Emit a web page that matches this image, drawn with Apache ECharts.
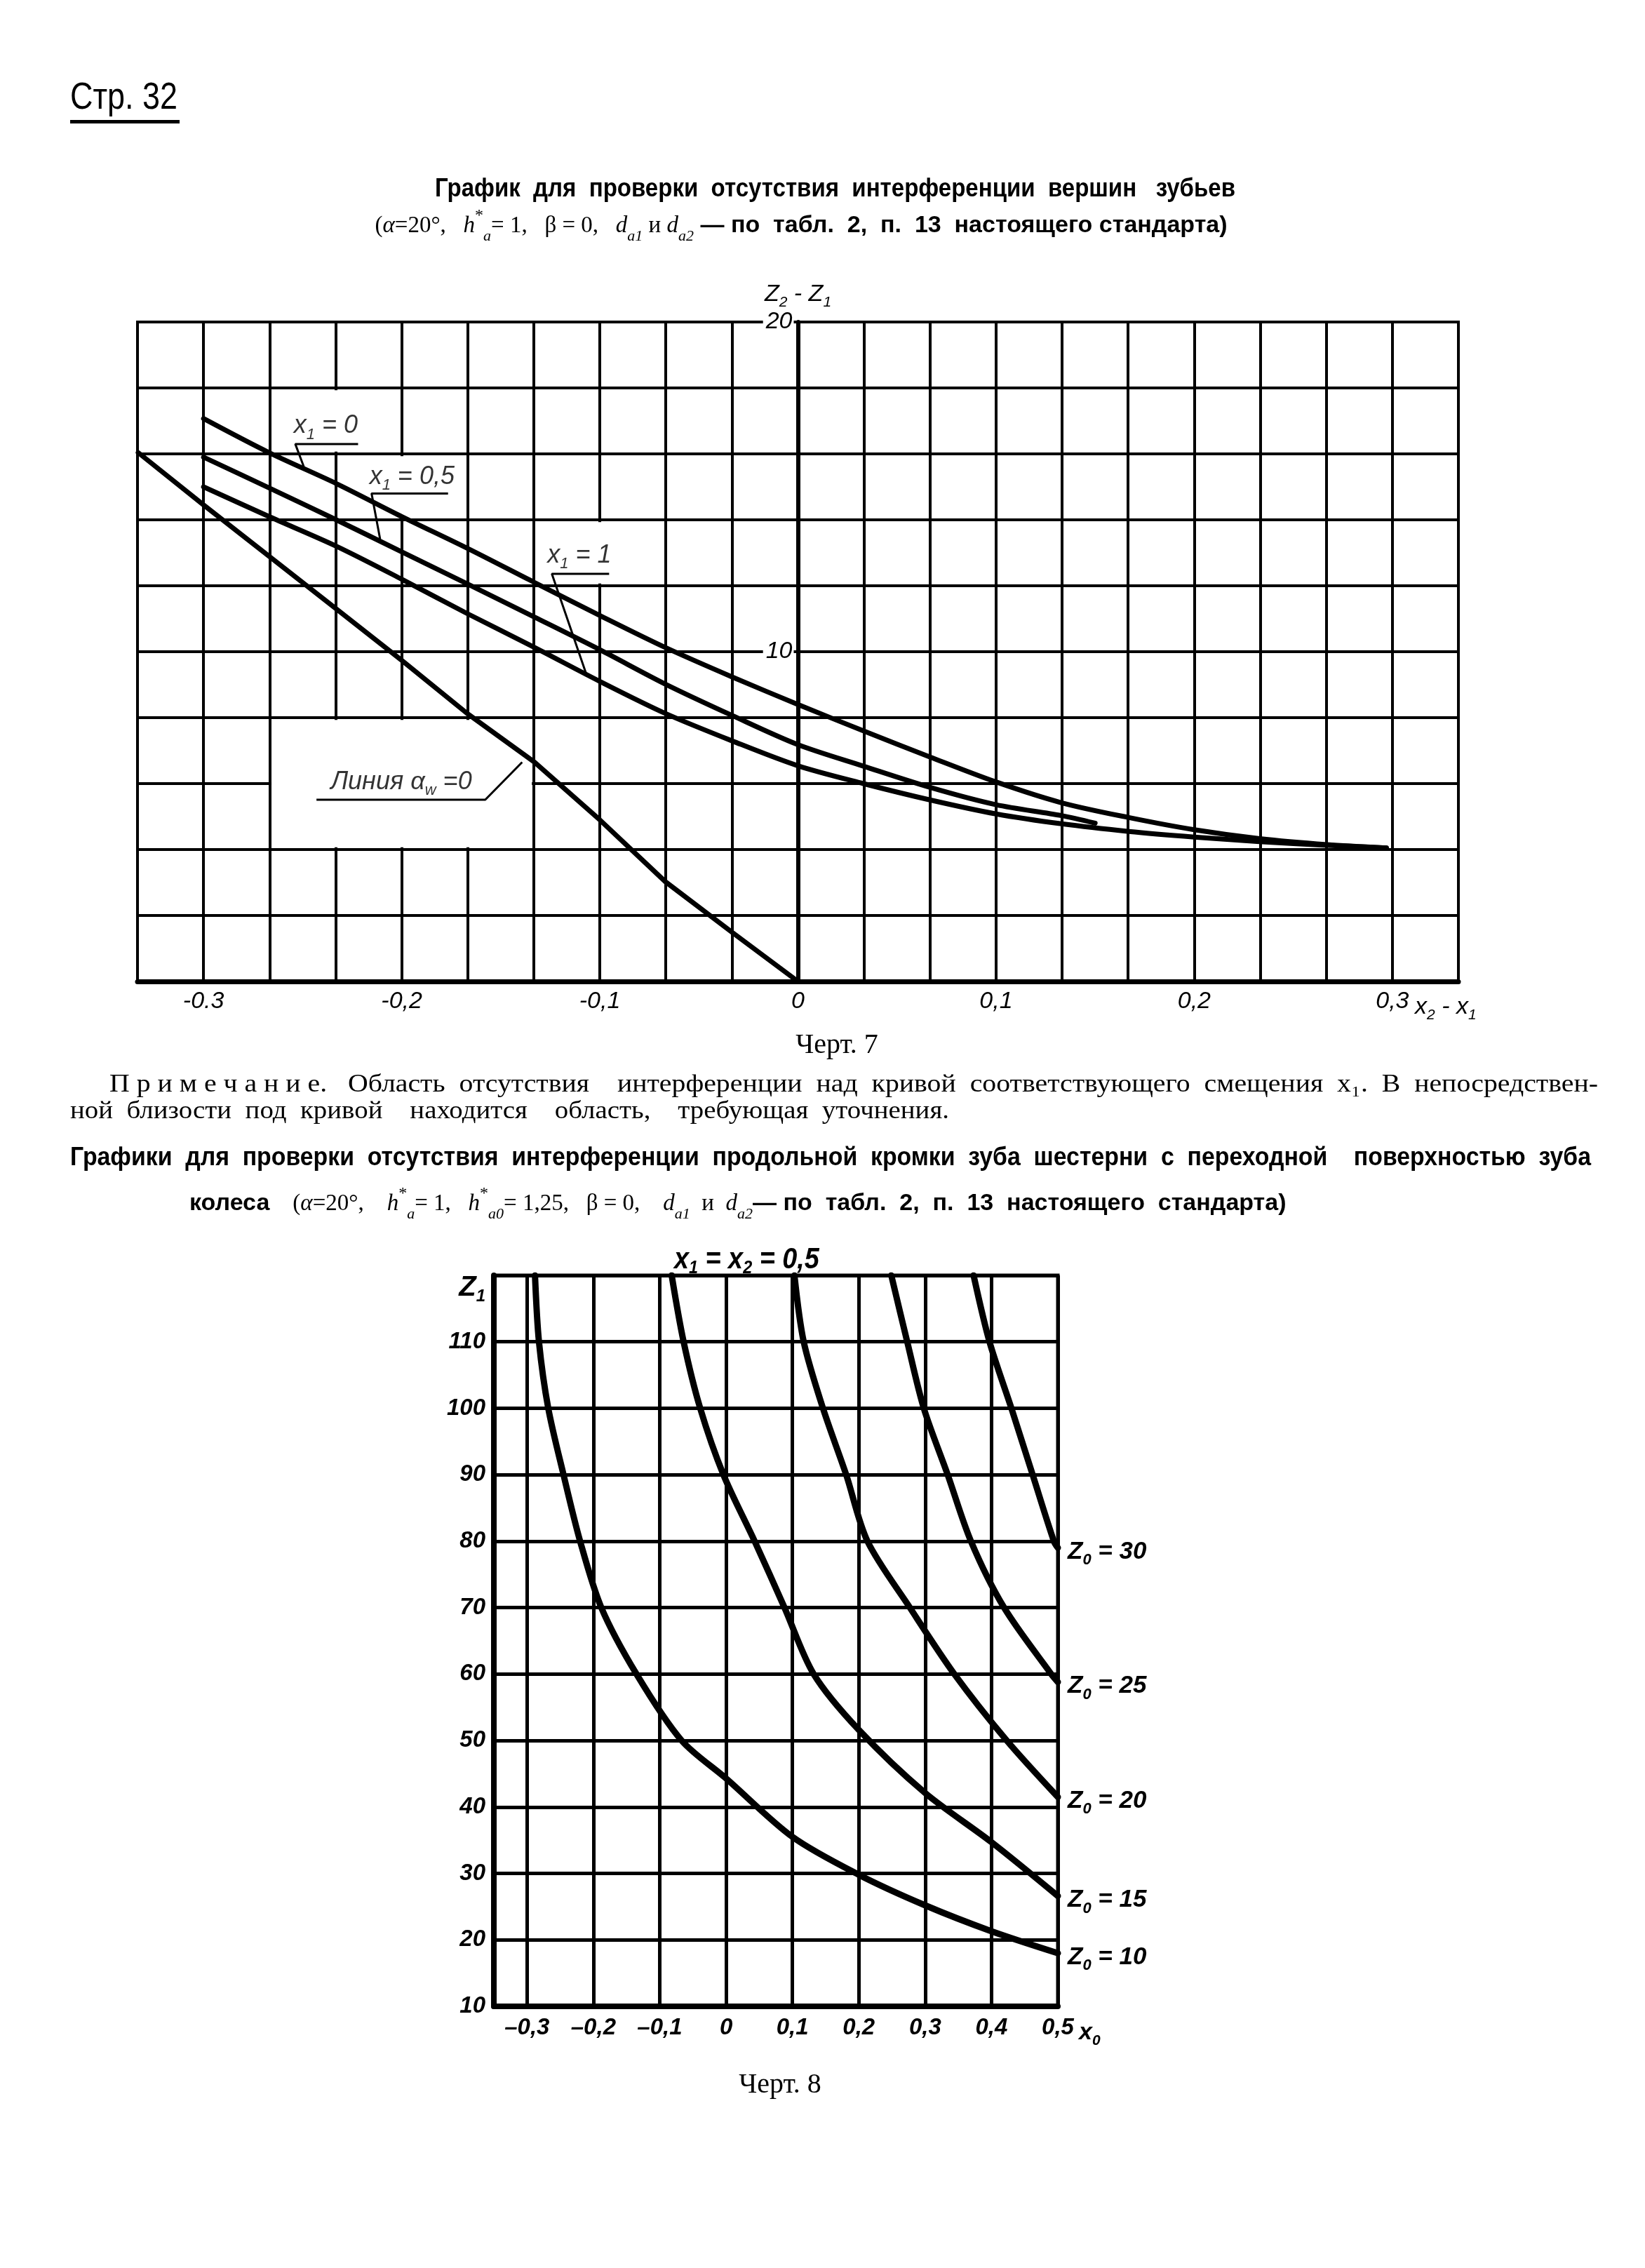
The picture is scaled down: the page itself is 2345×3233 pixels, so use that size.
<!DOCTYPE html>
<html><head><meta charset="utf-8">
<script src="https://cdn.jsdelivr.net/npm/echarts@6/dist/echarts.min.js"></script>
<style>html,body{margin:0;padding:0;background:#fff}#c{width:2345px;height:3233px}</style>
</head><body><div id="c"></div>
<script>
// ---------- Черт. 7 data (x = x2 - x1, y = z2 - z1) ----------
const curveX1_0  = [[-0.3,17.07],[-0.267,16.04],[-0.233,15.1],[-0.2,14.1],[-0.167,13.14],[-0.133,12.1],[-0.1,11.1],[-0.067,10.13],[-0.033,9.23],[0,8.4],[0.033,7.6],[0.067,6.8],[0.1,6.05],[0.133,5.42],[0.167,4.97],[0.2,4.6],[0.233,4.33],[0.267,4.15],[0.297,4.05]];
const curveX1_05 = [[-0.3,15.9],[-0.267,14.97],[-0.233,14.0],[-0.2,13.03],[-0.167,12.06],[-0.133,11.05],[-0.1,10.06],[-0.067,9.02],[-0.033,8.06],[0,7.18],[0.033,6.53],[0.067,5.88],[0.1,5.36],[0.133,5.03],[0.15,4.8]];
const curveX1_1  = [[-0.3,15.0],[-0.267,14.1],[-0.233,13.2],[-0.2,12.2],[-0.167,11.16],[-0.133,10.13],[-0.1,9.1],[-0.067,8.13],[-0.033,7.29],[0,6.54],[0.033,6.0],[0.067,5.5],[0.1,5.08],[0.133,4.78],[0.167,4.55],[0.2,4.38],[0.233,4.24],[0.267,4.13],[0.297,4.05]];
const lineAlphaW0 = [[-0.333,16.04],[-0.3,14.45],[-0.267,12.9],[-0.233,11.3],[-0.2,9.74],[-0.167,8.13],[-0.133,6.65],[-0.1,4.9],[-0.067,3.03],[-0.033,1.48],[0,0]];
const xTicks1 = [-0.3,-0.2,-0.1,0,0.1,0.2,0.3];
const xTickLabels1 = ['-0.3','-0,2','-0,1','0','0,1','0,2','0,3'];
const yTicks1 = [10,20];
const yTickLabels1 = ['10','20'];
// leader lines and their labels
const leaders1 = [
  [[-0.2494,15.61],[-0.2537,16.3],[-0.222,16.3]],
  [[-0.2109,13.42],[-0.2152,14.8],[-0.1766,14.8]],
  [[-0.107,9.35],[-0.1242,12.36],[-0.0953,12.36]],
  [[-0.243,5.51],[-0.1578,5.51],[-0.1392,6.65]]
];
const annotPos1 = [[-0.2383,16.85],[-0.1948,15.3],[-0.1103,12.92],[-0.2002,6.05]];
const annotLabels1 = ['{i|x}{s|1}{i| = 0}','{i|x}{s|1}{i| = 0,5}','{i|x}{s|1}{i| = 1}','{i|Линия α}{s|w}{i| =0}'];
// grid cells blanked out behind the labels: [xFrom, xTo, yFrom, yTo]
const labelBoxes1 = [
  [-0.2657,-0.2013,16.07,17.93],
  [-0.2323,-0.1677,14.07,15.93],
  [-0.1323,-0.0677,12.07,13.93],
  [-0.2657,-0.1343,4.07,7.93]
];

// ---------- Черт. 8 data (x = x0, y = z1) ----------
const z0_10 = [[-0.288,120],[-0.282,110],[-0.268,100],[-0.245,90],[-0.22,80],[-0.188,70],[-0.135,60],[-0.067,50],[0,44.3],[0.1,35.5],[0.2,29.8],[0.3,25.2],[0.4,21.3],[0.5,18.0]];
const z0_15 = [[-0.082,120],[-0.064,110],[-0.039,100],[-0.004,90],[0.043,80],[0.088,70],[0.132,60],[0.2,51.6],[0.3,42.1],[0.4,34.7],[0.5,26.6]];
const z0_20 = [[0.103,120],[0.117,110],[0.146,100],[0.181,90],[0.213,80],[0.277,70],[0.344,60],[0.423,50],[0.5,41.5]];
const z0_25 = [[0.249,120],[0.273,110],[0.298,100],[0.334,90],[0.369,80],[0.419,70],[0.49,60],[0.5,58.8]];
const z0_30 = [[0.373,120],[0.397,110],[0.43,100],[0.462,90],[0.494,80],[0.5,79]];
const z0Labels = ['{i|Z}{s|0}{i| = 10}','{i|Z}{s|0}{i| = 15}','{i|Z}{s|0}{i| = 20}','{i|Z}{s|0}{i| = 25}','{i|Z}{s|0}{i| = 30}'];
const xTicks2 = [-0.3,-0.2,-0.1,0,0.1,0.2,0.3,0.4,0.5];
const xTickLabels2 = ['–0,3','–0,2','–0,1','0','0,1','0,2','0,3','0,4','0,5'];
const yTicks2 = [10,20,30,40,50,60,70,80,90,100,110,120];
const yTickLabels2 = ['10','20','30','40','50','60','70','80','90','100','110','{z|Z}{zs|1}'];

// ---------- styling ----------
const SANS = "'Liberation Sans','Arial',sans-serif";
const SERIF = "'Liberation Serif','DejaVu Serif',serif";
const BLACK = '#000';

const _ctx = document.createElement('canvas').getContext('2d');
function fit(text, font, target) { _ctx.font = font; return target / _ctx.measureText(text).width; }

function pick(ticks, labels, v) {
  const i = ticks.findIndex(t => Math.abs(t - v) < 1e-6);
  return i >= 0 ? labels[i] : '';
}
function curve(data, idx, w) {
  return {type:'line', xAxisIndex:idx, yAxisIndex:idx, data, smooth:0.3, symbol:'none',
    lineStyle:{color:BLACK, width:w, cap:'round', join:'round'}, silent:true, z:5};
}
const richSmall = (size, bold) => ({
  i:{fontFamily:SANS, fontStyle:'italic', fontWeight:bold?'bold':'normal', fontSize:size, color:BLACK, lineHeight:size*1.3},
  s:{fontFamily:SANS, fontStyle:'italic', fontWeight:bold?'bold':'normal', fontSize:Math.round(size*0.62), color:BLACK, verticalAlign:'bottom', lineHeight:Math.round(size*0.62)}
});

const series = [];
series.push({type:'scatter', xAxisIndex:0, yAxisIndex:0, symbolSize:1, itemStyle:{color:'rgba(0,0,0,0)'}, silent:true, z:3,
  data: annotPos1.map((p,i)=>({value:p, name:annotLabels1[i]})),
  label:{show:true, position:'inside', formatter:p=>p.name, rich:richSmall(36,false)},
  markArea:{silent:true, itemStyle:{color:'#fff', borderWidth:0}, label:{show:false},
    data: labelBoxes1.map(b => [{coord:[b[0], b[2]]}, {coord:[b[1], b[3]]}])}});
series.push(curve(curveX1_0, 0, 7));
series.push(curve(curveX1_05, 0, 7));
series.push(curve(curveX1_1, 0, 7));
series.push(Object.assign(curve(lineAlphaW0, 0, 7), {smooth:false}));
leaders1.forEach(l => series.push({type:'line', xAxisIndex:0, yAxisIndex:0, data:l, smooth:false, symbol:'none', lineStyle:{color:BLACK, width:3}, silent:true, z:5}));

[z0_10, z0_15, z0_20, z0_25, z0_30].forEach((d,i) => {
  const s = curve(d, 1, 9);
  s.endLabel = {show:true, formatter:z0Labels[i], offset:[6,6], rich:richSmall(35,true)};
  if (i === 0) {
    s.markLine = {silent:true, symbol:['none','none'], label:{show:false}, animation:false,
      lineStyle:{color:BLACK, width:5, type:'solid'},
      data: xTicks2.map(v => ({xAxis:v}))};
  }
  series.push(s);
});

const T_PAGE = 'Стр. 32';
const T_TITLE1 = 'График  для  проверки  отсутствия  интерференции  вершин   зубьев';
const T_NOTE1 = 'П р и м е ч а н и е.   Область  отсутствия    интерференции  над  кривой  соответствующего  смещения  x₁.  В  непосредствен-';
const T_NOTE2 = 'ной  близости  под  кривой    находится    область,    требующая  уточнения.';
const T_TITLE2 = 'Графики  для  проверки  отсутствия  интерференции  продольной  кромки  зуба  шестерни  с  переходной    поверхностью  зуба';
const F_PAGE = "54px " + SANS, F_BOLD = "bold 36px " + SANS, F_NOTE = "36px " + SERIF;

const richFormula = {
  p:{fontFamily:SERIF, fontSize:33, lineHeight:52, fill:BLACK},
  i:{fontFamily:SERIF, fontStyle:'italic', fontSize:33, lineHeight:52, fill:BLACK},
  sub:{fontFamily:SERIF, fontStyle:'italic', fontSize:22, lineHeight:22, verticalAlign:'bottom', fill:BLACK},
  sup:{fontFamily:SERIF, fontSize:24, lineHeight:24, verticalAlign:'top', fill:BLACK},
  b:{fontFamily:SANS, fontWeight:'bold', fontSize:34, lineHeight:52, fill:BLACK}
};

const graphics = [
  {type:'text', x:100, y:140, scaleX:fit(T_PAGE, F_PAGE, 153), style:{text:T_PAGE, font:F_PAGE, fill:BLACK, verticalAlign:'middle', align:'left'}},
  {type:'rect', shape:{x:100, y:171, width:156, height:5}, style:{fill:BLACK}},
  {type:'text', x:620, y:270, scaleX:fit(T_TITLE1, F_BOLD, 1141), style:{text:T_TITLE1, font:F_BOLD, fill:BLACK, align:'left', verticalAlign:'middle'}},
  {type:'text', x:1142, y:322, style:{align:'center', verticalAlign:'middle',
    text:'{p|(}{i|α}{p|=20°,   }{i|h}{sup|*}{sub|a}{p|= 1,   β = 0,   }{i|d}{sub|a1}{p| и }{i|d}{sub|a2}{b| — по  табл.  2,  п.  13  настоящего стандарта)}',
    rich:richFormula}},
  {type:'text', x:1193, y:1490, style:{text:'Черт. 7', font:"40px "+SERIF, fill:BLACK, align:'center', verticalAlign:'middle'}},
  {type:'text', x:156, y:1547, scaleX:fit(T_NOTE1, F_NOTE, 2122), style:{text:T_NOTE1, font:F_NOTE, fill:BLACK, align:'left', verticalAlign:'middle'}},
  {type:'text', x:100, y:1585, scaleX:fit(T_NOTE2, F_NOTE, 1253), style:{text:T_NOTE2, font:F_NOTE, fill:BLACK, align:'left', verticalAlign:'middle'}},
  {type:'text', x:100, y:1651, scaleX:fit(T_TITLE2, F_BOLD, 2168), style:{text:T_TITLE2, font:F_BOLD, fill:BLACK, align:'left', verticalAlign:'middle'}},
  {type:'text', x:270, y:1716, style:{align:'left', verticalAlign:'middle',
    text:'{b|колеса}{p|    (}{i|α}{p|=20°,    }{i|h}{sup|*}{sub|a}{p|= 1,   }{i|h}{sup|*}{sub|a0}{p|= 1,25,   β = 0,    }{i|d}{sub|a1}{p|  и  }{i|d}{sub|a2}{b|— по  табл.  2,  п.  13  настоящего  стандарта)}',
    rich:richFormula}},
  {type:'text', x:961, y:1796, scaleX:0.9, style:{align:'left', verticalAlign:'middle',
    text:'{i|x}{s|1}{i| = x}{s|2}{i| = 0,5}',
    rich:{
      i:{fontFamily:SANS, fontStyle:'italic', fontWeight:'bold', fontSize:42, lineHeight:50, fill:BLACK},
      s:{fontFamily:SANS, fontStyle:'italic', fontWeight:'bold', fontSize:26, lineHeight:26, verticalAlign:'bottom', fill:BLACK}
    }}},
  {type:'text', x:1112, y:2972, style:{text:'Черт. 8', font:"40px "+SERIF, fill:BLACK, align:'center', verticalAlign:'middle'}}
];

const option = {
  animation:false,
  backgroundColor:'#fff',
  grid:[
    {left:196, top:459, width:1883, height:940, show:true, borderColor:BLACK, borderWidth:4, backgroundColor:'transparent'},
    {left:704, top:1818, width:804, height:1042, show:true, borderColor:BLACK, borderWidth:5, backgroundColor:'transparent'}
  ],
  xAxis:[
    {gridIndex:0, type:'value', min:-1/3, max:1/3, interval:1/30,
      axisLine:{show:true, onZero:false, lineStyle:{color:BLACK, width:7}},
      axisTick:{show:false},
      splitLine:{show:true, lineStyle:{color:BLACK, width:4}},
      axisLabel:{color:BLACK, fontFamily:SANS, fontStyle:'italic', fontSize:34, margin:12,
        formatter:v=>pick(xTicks1, xTickLabels1, v)},
      name:'{i|x}{s|2}{i| - x}{s|1}', nameLocation:'end', nameGap:-62,
      nameTextStyle:{verticalAlign:'top', padding:[14,0,0,0], rich:richSmall(34,false)}},
    {gridIndex:1, type:'value', min:-0.35, max:0.5, interval:0.05,
      axisLine:{show:true, onZero:false, lineStyle:{color:BLACK, width:8}},
      axisTick:{show:false},
      splitLine:{show:false},
      axisLabel:{color:BLACK, fontFamily:SANS, fontStyle:'italic', fontWeight:'bold', fontSize:33, margin:14,
        formatter:v=>pick(xTicks2, xTickLabels2, v)},
      name:'{i|x}{s|0}', nameLocation:'end', nameGap:30,
      nameTextStyle:{verticalAlign:'top', padding:[16,0,0,0], rich:richSmall(34,true)}}
  ],
  yAxis:[
    {gridIndex:0, type:'value', min:0, max:20, interval:2, position:'left', offset:-941.5,
      axisLine:{show:true, onZero:false, lineStyle:{color:BLACK, width:6}},
      axisTick:{show:false},
      splitLine:{show:true, lineStyle:{color:BLACK, width:4}},
      axisLabel:{color:BLACK, fontFamily:SANS, fontStyle:'italic', fontSize:34, margin:6,
        backgroundColor:'#fff', padding:[0,2,0,4],
        formatter:v=>pick(yTicks1, yTickLabels1, v)},
      name:'{i|Z}{s|2}{i| - Z}{s|1}', nameLocation:'end', nameGap:14,
      nameTextStyle:{rich:richSmall(34,false)}},
    {gridIndex:1, type:'value', min:10, max:120, interval:10,
      axisLine:{show:true, onZero:false, lineStyle:{color:BLACK, width:8}},
      axisTick:{show:false},
      splitLine:{show:true, lineStyle:{color:BLACK, width:5}},
      axisLabel:{color:BLACK, fontFamily:SANS, fontStyle:'italic', fontWeight:'bold', fontSize:33, margin:12,
        formatter:v=>pick(yTicks2, yTickLabels2, v),
        rich:{
          z:{fontFamily:SANS, fontStyle:'italic', fontWeight:'bold', fontSize:40, padding:[36,0,0,0], color:BLACK},
          zs:{fontFamily:SANS, fontStyle:'italic', fontWeight:'bold', fontSize:24, padding:[60,0,0,0], color:BLACK}
        }}}
  ],
  series,
  graphic:graphics
};
const chart = echarts.init(document.getElementById('c'));
chart.setOption(option);
</script>
</body></html>
